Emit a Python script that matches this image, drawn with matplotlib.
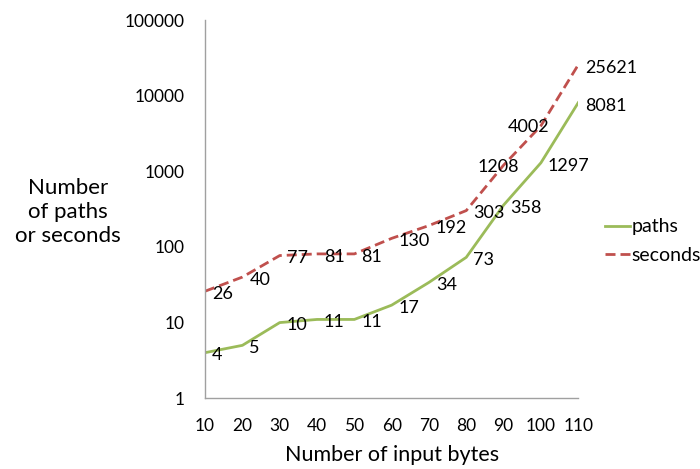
import matplotlib

matplotlib.use("Agg")
import matplotlib.pyplot as plt

plt.rcParams["font.family"] = ["Lato", "DejaVu Sans"]

input_bytes = ["10", "20", "30", "40", "50", "60", "70", "80", "90", "100", "110"]
paths = [4, 5, 10, 11, 11, 17, 34, 73, 358, 1297, 8081]
seconds = [26, 40, 77, 81, 81, 130, 192, 303, 1208, 4002, 25621]

GREEN = "#9BBB59"
RED = "#C0504D"

fig = plt.figure(figsize=(7, 4.69), dpi=100)
ax = fig.add_axes([0.293, 0.151, 0.533, 0.806])

x = list(range(len(input_bytes)))
ax.plot(x, paths, color=GREEN, linewidth=2, label="paths")
ax.plot(x, seconds, color=RED, linewidth=2, linestyle=(0, (3.6, 1.8)), label="seconds")

# labels sit right of the point, except two moved over the dashed line
for xi, v in zip(x, paths):
    ax.annotate(str(v), (xi, v), xytext=(5, -2), textcoords="offset points",
                ha="left", va="center", fontsize=13, color="#000000")
for xi, v in zip(x, seconds):
    if xi in (8, 9):
        dx = -4 if xi == 8 else -9
        ax.annotate(str(v), (xi, v), xytext=(dx, -1), textcoords="offset points",
                    ha="center", va="center", fontsize=13, color="#000000")
    else:
        ax.annotate(str(v), (xi, v), xytext=(5, -2), textcoords="offset points",
                    ha="left", va="center", fontsize=13, color="#000000")

ax.set_yscale("log")
ax.set_ylim(1, 100000)
ax.set_xlim(0, 10)
ax.set_yticks([1, 10, 100, 1000, 10000, 100000])
ax.set_yticklabels(["1", "10", "100", "1000", "10000", "100000"])
ax.minorticks_off()
ax.set_xticks(x)
ax.set_xticklabels(input_bytes)
ax.tick_params(axis="both", length=0, labelsize=12.5)
ax.tick_params(axis="x", pad=14)
ax.tick_params(axis="y", pad=15)

for side in ["top", "right"]:
    ax.spines[side].set_visible(False)
for side in ["left", "bottom"]:
    ax.spines[side].set_color("#A0A0A0")
    ax.spines[side].set_linewidth(1)

ax.set_xlabel("Number of input bytes", fontsize=15.5, labelpad=8)
fig.text(0.097, 0.548, "Number\nof paths\nor seconds", ha="center", va="center",
         fontsize=16, linespacing=1.25)

ax.legend(loc="center left", bbox_to_anchor=(1.05, 0.415), frameon=False,
          fontsize=14, handlelength=1.3, handletextpad=0.1, labelspacing=0.6,
          borderaxespad=0)

fig.savefig("out.png", dpi=100)
